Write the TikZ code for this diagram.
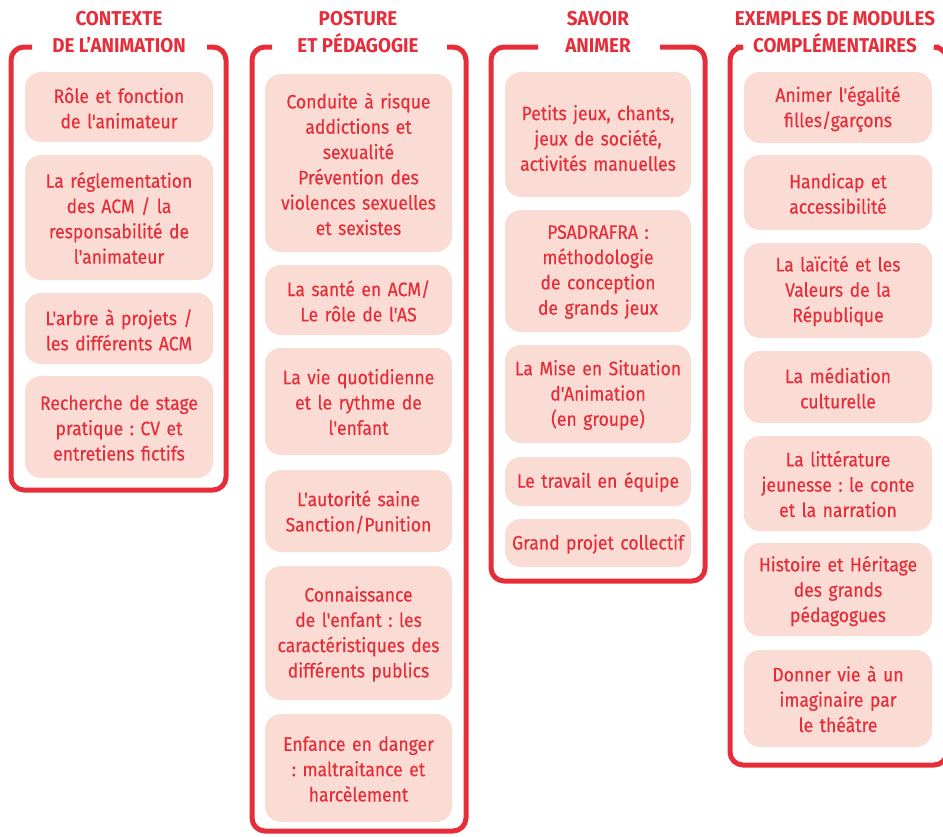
\documentclass[tikz,border=0pt]{standalone}
\usepackage{fontspec}
\setmainfont{Fira Sans}[Ligatures=TeXOff,FakeStretch=0.9,FakeBold=0.35]
\newfontfamily\headfont{Fira Sans}[FakeStretch=0.94]
\definecolor{cred}{HTML}{E62E3B}
\definecolor{cpink}{HTML}{FADCD4}
\begin{document}
\frenchspacing
\begin{tikzpicture}[x=1pt,y=-1pt,
  frame/.style={draw=cred,line width=5pt,rounded corners=13pt},
  bg/.style={fill=cpink,rounded corners=16pt},
  box/.style={text=cred,align=center,
    font=\fontsize{19.5}{25.3}\selectfont,inner sep=0pt,text width=186pt},
  head/.style={text=cred,align=center,font=\headfont\bfseries\fontsize{20}{27}\selectfont,inner sep=0pt}]
\useasboundingbox (0,0) rectangle (943,836);
\clip (0,0) rectangle (943,836);
% column 1
\draw[frame] (32,47) -- (11,47) -- (11,490) -- (226,490) -- (226,47) -- (207,47);
\node[head] (h1) at (119,32) {CONTEXTE\\DE L’ANIMATION};
\path[bg] (25,72) rectangle (213,142);
\node[box] (a1) at (119,108) {Rôle et fonction\\de l'animateur};
\path[bg] (25,155) rectangle (213,280);
\node[box] (a2) at (119,218) {La réglementation\\des ACM / la\\responsabilité de\\l'animateur};
\path[bg] (25,293) rectangle (213,364);
\node[box] (a3) at (119,330) {L'arbre à projets /\\les différents ACM};
\path[bg] (25,376) rectangle (213,478);
\node[box] (a4) at (119,428) {Recherche de stage\\pratique : CV et\\entretiens fictifs};
% column 2
\draw[frame] (272,47) -- (252,47) -- (252,831) -- (466,831) -- (466,47) -- (447,47);
\node[head] (h2) at (358,32) {POSTURE\\ET PÉDAGOGIE};
\path[bg] (265,74) rectangle (452,252);
\node[box] (b1) at (358.5,164) {Conduite à risque\\addictions et\\sexualité\\Prévention des\\violences sexuelles\\et sexistes};
\path[bg] (265,265) rectangle (452,335);
\node[box] (b2) at (358.5,301) {La santé en ACM/\\Le rôle de l'AS};
\path[bg] (265,348) rectangle (452,455);
\node[box] (b3) at (358.5,402) {La vie quotidienne\\et le rythme de\\l'enfant};
\path[bg] (265,470) rectangle (452,552);
\node[box] (b4) at (358.5,512) {L'autorité saine\\Sanction/Punition};
\path[bg] (265,566) rectangle (452,700);
\node[box] (b5) at (358.5,634) {Connaissance\\de l'enfant : les\\caractéristiques des\\différents publics};
\path[bg] (265,714) rectangle (452,822);
\node[box] (b6) at (358.5,769) {Enfance en danger\\: maltraitance et\\harcèlement};
% column 3
\draw[frame] (538,47) -- (491,47) -- (491,581) -- (705,581) -- (705,47) -- (660,47);
\node[head] (h3) at (598,32) {SAVOIR\\ANIMER};
\path[bg] (505,72) rectangle (691,197);
\node[box] (c1) at (598,138) {Petits jeux, chants,\\jeux de société,\\activités manuelles};
\path[bg] (505,210) rectangle (691,332);
\node[box] (c2) at (598,272) {PSADRAFRA :\\méthodologie\\de conception\\de grands jeux};
\path[bg] (505,345) rectangle (691,443);
\node[box] (c3) at (598,395) {La Mise en Situation\\d'Animation\\(en groupe)};
\path[bg] (505,457) rectangle (691,506);
\node[box] (c4) at (598,482) {Le travail en équipe};
\path[bg] (505,519) rectangle (691,567);
\node[box] (c5) at (598,544) {Grand projet collectif};
% column 4
\draw[frame] (736,47) -- (730,47) -- (730,765) -- (947,765) -- (947,47) -- (939,47);
\node[head] (h4) at (835,32) {EXEMPLES DE MODULES\\COMPLÉMENTAIRES};
\path[bg] (744,72) rectangle (932,143);
\node[box] (d1) at (838,109) {Animer l'égalité\\filles/garçons};
\path[bg] (744,155) rectangle (932,230);
\node[box] (d2) at (838,193.5) {Handicap et\\accessibilité};
\path[bg] (744,243) rectangle (932,338);
\node[box] (d3) at (838,291) {La laïcité et les\\Valeurs de la\\République};
\path[bg] (744,351) rectangle (932,423);
\node[box] (d4) at (838,388) {La médiation\\culturelle};
\path[bg] (744,436) rectangle (932,531);
\node[box] (d5) at (838,484) {La littérature\\jeunesse : le conte\\et la narration};
\path[bg] (744,543) rectangle (932,636);
\node[box] (d6) at (838,591) {Histoire et Héritage\\des grands\\pédagogues};
\path[bg] (744,650) rectangle (932,747);
\node[box] (d7) at (838,699) {Donner vie à un\\imaginaire par\\le théâtre};
\end{tikzpicture}
\end{document}
